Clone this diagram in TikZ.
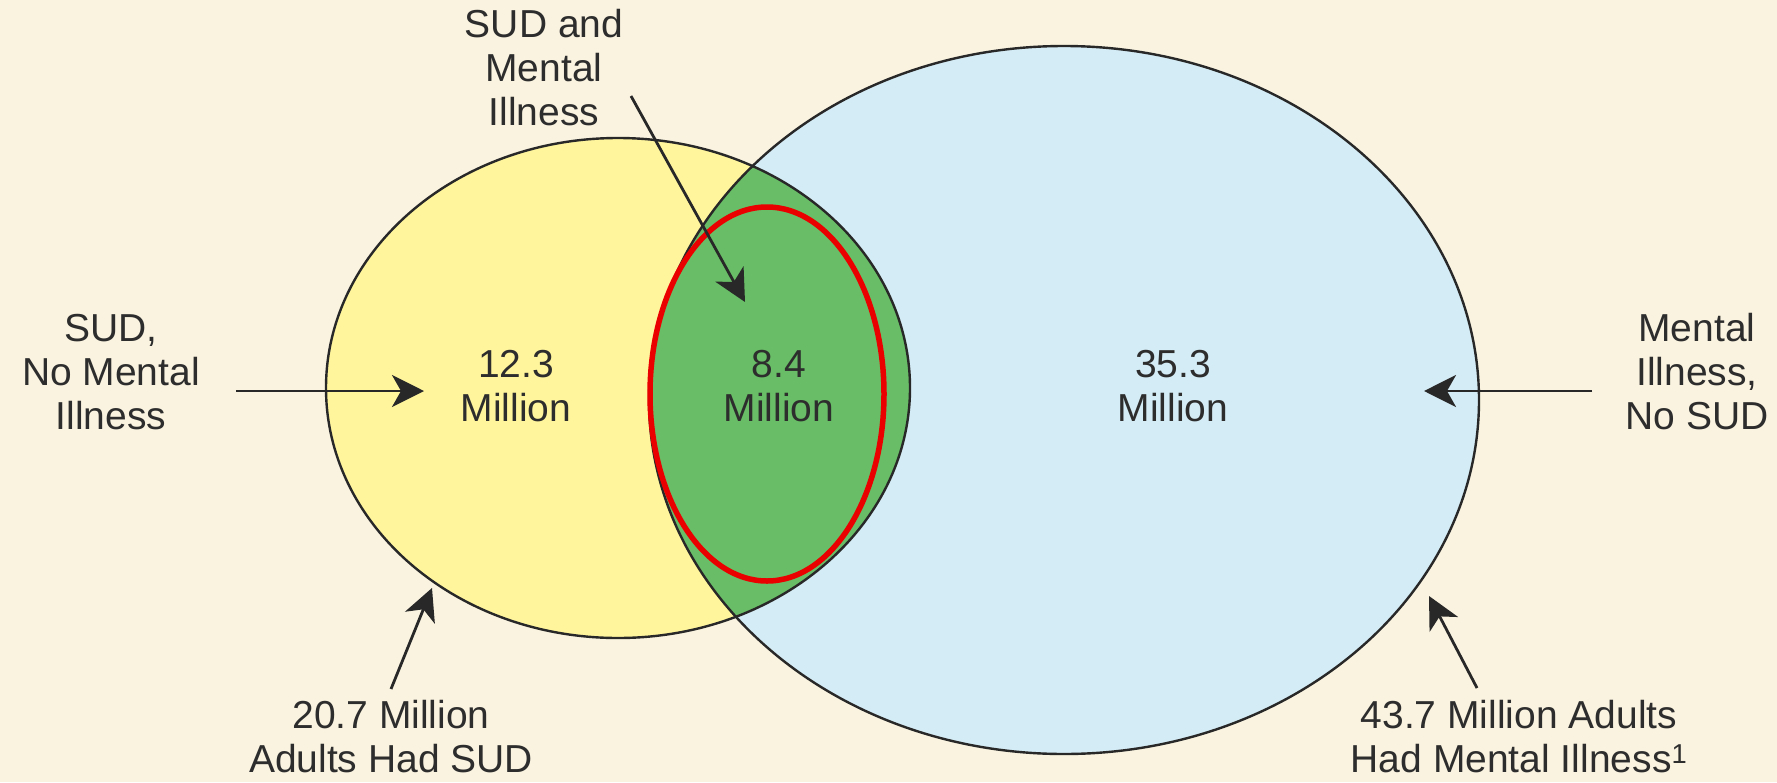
\documentclass[tikz,border=0pt]{standalone}
\usepackage{fontspec}
\setmainfont{Liberation Sans}
\usetikzlibrary{arrows.meta}
\definecolor{bgcream}{RGB}{250,243,224}
\definecolor{sudyellow}{RGB}{255,245,157}
\definecolor{miblue}{RGB}{212,236,245}
\definecolor{bothgreen}{RGB}{104,189,102}
\definecolor{outline}{RGB}{40,40,40}
\definecolor{txt}{RGB}{45,45,45}
\definecolor{hired}{RGB}{235,0,0}
\tikzset{
  lbl/.style={inner sep=0pt, align=center, text=txt, font=\fontsize{39}{44}\selectfont},
  pointer/.style={draw=outline, line width=2.8pt, -{Stealth[length=32pt,width=32pt,inset=9pt]}},
  rim/.style={draw=outline, line width=2.4pt}
}
\begin{document}
\begin{tikzpicture}[x=1pt,y=-1pt]
\useasboundingbox (0,0) rectangle (1777,782);
\fill[bgcream] (0,0) rectangle (1777,782);
% circles
\fill[sudyellow] (618,388) ellipse [x radius=292, y radius=250];
\fill[miblue] (1064,400) ellipse [x radius=415, y radius=354];
\begin{scope}
  \clip (618,388) ellipse [x radius=292, y radius=250];
  \fill[bothgreen] (1064,400) ellipse [x radius=415, y radius=354];
\end{scope}
\draw[rim] (618,388) ellipse [x radius=292, y radius=250];
\draw[rim] (1064,400) ellipse [x radius=415, y radius=354];
\draw[hired, line width=5.5pt] (767,394) ellipse [x radius=117, y radius=187];
% labels
\node[lbl] (both) at (544,68) {SUD and\\Mental\\Illness};
\node[lbl] (sudonly) at (111,372) {SUD,\\No Mental\\Illness};
\node[lbl] (mionly) at (1697,372) {Mental\\Illness,\\No SUD};
\node[lbl] (n1) at (516,386) {12.3\\Million};
\node[lbl] (n2) at (779,386) {8.4\\Million};
\node[lbl] (n3) at (1173,386) {35.3\\Million};
\node[lbl] (sudtot) at (391,737) {20.7 Million\\Adults Had SUD};
\node[lbl] (mitot) at (1519,737) {43.7 Million Adults\\Had Mental Illness\textsuperscript{1}};
% arrow ends
\coordinate (bothS) at (631,96);
\coordinate (bothT) at (745,302);
\coordinate (sudS) at (236,391);
\coordinate (sudT) at (424,391);
\coordinate (miS) at (1592,391);
\coordinate (miT) at (1424,391);
\coordinate (sudtotS) at (391,689);
\coordinate (sudtotT) at (432,588);
\coordinate (mitotS) at (1477,688);
\coordinate (mitotT) at (1429,596);
\draw[pointer] (bothS) -- (bothT);
\draw[pointer] (sudS) -- (sudT);
\draw[pointer] (miS) -- (miT);
\draw[pointer] (sudtotS) -- (sudtotT);
\draw[pointer] (mitotS) -- (mitotT);
\end{tikzpicture}
\end{document}
